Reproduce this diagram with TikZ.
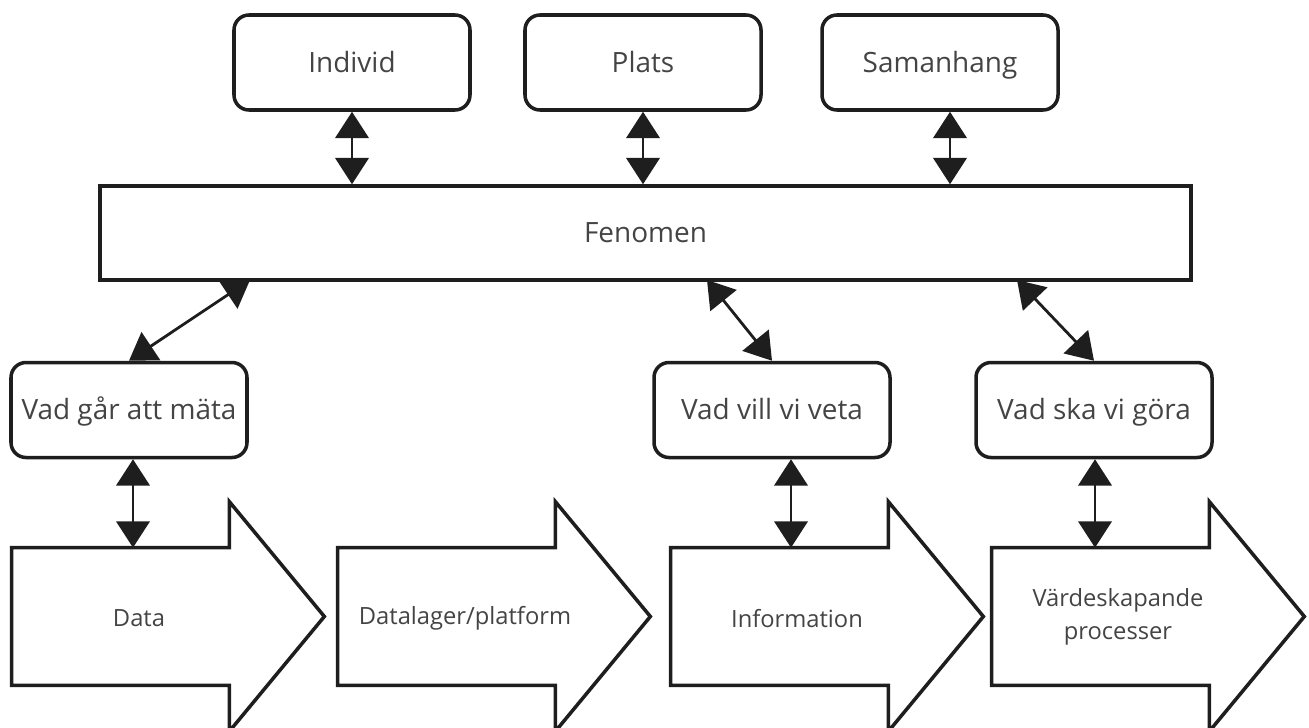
\documentclass[tikz,border=0pt]{standalone}
\usepackage{fontspec}
\setmainfont{Open Sans}
\usetikzlibrary{arrows.meta}

\definecolor{lineblack}{HTML}{1E1E1E}
\definecolor{textgray}{HTML}{444444}

\begin{document}
\begin{tikzpicture}[
  box/.style={draw=lineblack, line width=2pt, rounded corners=0.3cm,
    minimum width=4.72cm, minimum height=1.9cm, text=textgray,
    text height=2.4ex, text depth=0.3ex,
    font=\fontsize{15.9}{19}\selectfont},
  link/.style={draw=lineblack, line width=1.6pt,
    {Triangle[length=15pt,width=19pt]}-{Triangle[length=15pt,width=19pt]}},
  body/.style={minimum width=4.34cm, minimum height=2.74cm, inner sep=0pt},
  bigline/.style={draw=lineblack, line width=2pt, line join=miter},
  flowtext/.style={text=textgray, font=\fontsize{13.5}{18.7}\selectfont, align=center}
]
\useasboundingbox (0,0) rectangle (26.18,-14.54);

% Top boxes
\node[box] (ind) at (7.04,-1.25) {Individ};
\node[box] (plats) at (12.86,-1.25) {Plats};
\node[box] (saman) at (18.8,-1.25) {Samanhang};

% Phenomenon bar
\node[box, rounded corners=0pt, minimum width=21.82cm, minimum height=1.88cm] (fen) at (12.91,-4.66) {Fenomen};

% Question boxes
\node[box] (mata) at (2.58,-8.2) {Vad går att mäta};
\node[box] (vill) at (15.44,-8.2) {Vad vill vi veta};
\node[box] (ska) at (21.88,-8.2) {Vad ska vi göra};

% Big flow arrows
\foreach \n/\x in {data/0.24, lager/6.76, info/13.42, varde/19.84} {
  \node[body] (\n) at (\x+2.17,-12.33) {};
  \draw[bigline] (\n.north west) -- (\n.north east) -- ++(0,0.92)
    -- ([xshift=1.9cm]\n.east) -- ([yshift=-0.92cm]\n.south east)
    -- (\n.south east) -- (\n.south west) -- cycle;
}

% Flow labels
\node[flowtext] (datatxt) at ([xshift=0.37cm,yshift=-0.04cm]data.center) {Data};
\node[flowtext] (lagertxt) at ([xshift=0.37cm,yshift=-0.04cm]lager.center) {Datalager/platform};
\node[flowtext] (infotxt) at ([xshift=0.35cm,yshift=-0.04cm]info.center) {Information};
\node[flowtext] (vardetxt) at ([xshift=0.35cm]varde.center) {Värdeskapande\\processer};

% Links to the phenomenon
\draw[link] (ind.south) -- (ind.south |- fen.north);
\draw[link] (plats.south) -- (plats.south |- fen.north);
\draw[link] ([xshift=0.2cm]saman.south) -- ([xshift=0.2cm]saman.south |- fen.north);

\coordinate (f1) at (5.0,-5.6);
\coordinate (f2) at (14.14,-5.6);
\coordinate (f3) at (20.34,-5.6);
\draw[link] (f1) -- (mata.north);
\draw[link] (f2) -- (vill.north);
\draw[link] (f3) -- (ska.north);

% Links down to the flow
\draw[link] ([xshift=0.08cm]mata.south) -- ([xshift=0.08cm]mata.south |- data.north);
\draw[link] ([xshift=0.38cm]vill.south) -- ([xshift=0.38cm]vill.south |- info.north);
\draw[link] ([xshift=0.02cm]ska.south) -- ([xshift=0.02cm]ska.south |- varde.north);
\end{tikzpicture}
\end{document}
